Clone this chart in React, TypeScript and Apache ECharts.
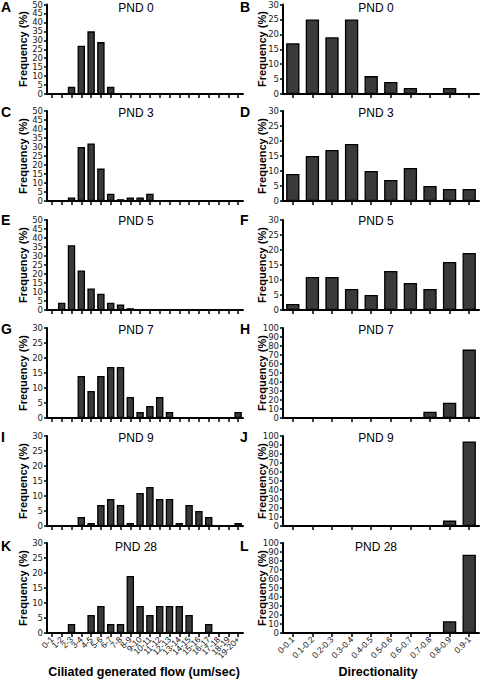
import React, { useEffect, useRef } from "react";
import * as echarts from "echarts";

// ---------- data ----------
const flowCategories = [
  "0-1", "1-2", "2-3", "3-4", "4-5", "5-6", "6-7", "7-8", "8-9", "9-10",
  "10-11", "11-12", "12-13", "13-14", "14-15", "15-16", "16-17", "17-18", "18-19", "19-20+",
];
const dirCategories = [
  "0-0.1", "0.1-0.2", "0.2-0.3", "0.3-0.4", "0.4-0.5",
  "0.5-0.6", "0.6-0.7", "0.7-0.8", "0.8-0.9", "0.9-1",
];
const panelTitles = ["PND 0", "PND 3", "PND 5", "PND 7", "PND 9", "PND 28"];
const leftLetters = ["A", "C", "E", "G", "I", "K"];
const rightLetters = ["B", "D", "F", "H", "J", "L"];

const flowPnd0 = [0, 0, 4, 27, 35, 29, 4, 0, 0, 0, 0, 0, 0, 0, 0, 0, 0, 0, 0, 0];
const flowPnd3 = [0, 0, 2, 30, 32, 18, 4, 1, 2, 2, 4, 0, 0, 0, 0, 0, 0, 0, 0, 0];
const flowPnd5 = [0, 4, 36, 22, 12, 9, 4, 3, 1, 0, 0, 0, 0, 0, 0, 0, 0, 0, 0, 0];
const flowPnd7 = [0, 0, 0, 14, 9, 14, 17, 17, 7, 2, 4, 7, 2, 0, 0, 0, 0, 0, 0, 2];
const flowPnd9 = [0, 0, 0, 3, 1, 7, 9, 7, 1, 11, 13, 9, 9, 1, 7, 5, 3, 0, 0, 1];
const flowPnd28 = [0, 0, 3, 0, 6, 9, 3, 3, 19, 9, 6, 9, 9, 9, 6, 0, 3, 0, 0, 0];

const dirPnd0 = [17, 25, 19, 25, 6, 4, 2, 0, 2, 0];
const dirPnd3 = [9, 15, 17, 19, 10, 7, 11, 5, 4, 4];
const dirPnd5 = [2, 11, 11, 7, 5, 13, 9, 7, 16, 19];
const dirPnd7 = [0, 0, 0, 0, 0, 0, 0, 7, 17, 76];
const dirPnd9 = [0, 0, 0, 0, 0, 0, 0, 0, 6, 94];
const dirPnd28 = [0, 0, 0, 0, 0, 0, 0, 0, 13, 87];

const flowSeries = [flowPnd0, flowPnd3, flowPnd5, flowPnd7, flowPnd9, flowPnd28];
const dirSeries = [dirPnd0, dirPnd3, dirPnd5, dirPnd7, dirPnd9, dirPnd28];
const flowMax = [50, 50, 50, 30, 30, 30];
const flowStep = [5, 5, 5, 5, 5, 5];
const dirMax = [30, 30, 30, 100, 100, 100];
const dirStep = [5, 5, 5, 10, 10, 10];

// ---------- layout ----------
const rowTops = [4, 111, 220, 328, 436, 543];
const plotH = 90;
const plotW = 196;
const leftX = 47;
const rightX = 283;
const titleYs = [8, 113, 221, 330, 438, 547];
const FONT = "Liberation Sans, Arial, Helvetica, sans-serif";
const TICK_FONT = "DejaVu Sans, Liberation Sans, sans-serif";

export default function App() {
  const ref = useRef<HTMLDivElement>(null);
  useEffect(() => {
    if (!ref.current) return;
    const chart = echarts.init(ref.current, null, { renderer: "svg" });
    const grids: any[] = [];
    const xAxes: any[] = [];
    const yAxes: any[] = [];
    const series: any[] = [];
    const graphics: any[] = [];

    const addPanel = (
      row: number,
      isLeft: boolean,
      cats: string[],
      data: number[],
      max: number,
      step: number
    ) => {
      const idx = grids.length;
      const last = row === 5;
      grids.push({
        left: isLeft ? leftX : rightX,
        top: rowTops[row],
        width: plotW,
        height: plotH,
        containLabel: false,
      });
      xAxes.push({
        type: "category",
        gridIndex: idx,
        data: cats,
        boundaryGap: true,
        axisLine: { show: true, lineStyle: { color: "#000", width: 2 } },
        axisTick: { show: true, alignWithLabel: true, length: 4, lineStyle: { color: "#000", width: 1.5 } },
        axisLabel: {
          show: last,
          rotate: 45,
          interval: 0,
          fontSize: 8.5,
          margin: 5,
          color: "#111",
          fontFamily: FONT,
        },
        splitLine: { show: false },
      });
      yAxes.push({
        type: "value",
        gridIndex: idx,
        min: 0,
        max,
        interval: step,
        axisLine: { show: true, lineStyle: { color: "#000", width: 2 } },
        axisTick: { show: true, length: 3, lineStyle: { color: "#000", width: 1.5 } },
        axisLabel: {
          fontSize: 8.5,
          lineHeight: 8,
          margin: 4,
          color: "#222",
          fontFamily: TICK_FONT,
          showMinLabel: true,
          showMaxLabel: true,
          hideOverlap: false,
        },
        splitLine: { show: false },
      });
      series.push({
        type: "bar",
        xAxisIndex: idx,
        yAxisIndex: idx,
        data,
        barCategoryGap: isLeft ? "24%" : "32%",
        itemStyle: { color: "#3a3a3a", borderColor: "#000", borderWidth: 1.3 },
        silent: true,
      });
      graphics.push({
        type: "text",
        x: isLeft ? 136 : 376,
        y: titleYs[row],
        style: {
          text: panelTitles[row],
          font: `12px ${FONT}`,
          fill: "#000",
          align: "center",
          verticalAlign: "middle",
        },
      });
      graphics.push({
        type: "text",
        x: isLeft ? 1 : 240,
        y: titleYs[row] - 1,
        style: {
          text: isLeft ? leftLetters[row] : rightLetters[row],
          font: `bold 14px ${FONT}`,
          fill: "#000",
          align: "left",
          verticalAlign: "middle",
        },
      });
      graphics.push({
        type: "text",
        x: isLeft ? 23 : 262,
        y: rowTops[row] + plotH / 2,
        rotation: Math.PI / 2,
        style: {
          text: "Frequency (%)",
          font: `bold 11px ${FONT}`,
          fill: "#000",
          align: "center",
          verticalAlign: "middle",
        },
      });
    };

    for (let r = 0; r < 6; r++) {
      addPanel(r, true, flowCategories, flowSeries[r], flowMax[r], flowStep[r]);
      addPanel(r, false, dirCategories, dirSeries[r], dirMax[r], dirStep[r]);
    }

    graphics.push({
      type: "text",
      x: 144,
      y: 672,
      style: {
        text: "Ciliated generated flow (um/sec)",
        font: `bold 12.5px ${FONT}`,
        fill: "#000",
        align: "center",
        verticalAlign: "middle",
      },
    });
    graphics.push({
      type: "text",
      x: 378,
      y: 672,
      style: {
        text: "Directionality",
        font: `bold 12.5px ${FONT}`,
        fill: "#000",
        align: "center",
        verticalAlign: "middle",
      },
    });

    chart.setOption({
      animation: false,
      backgroundColor: "#fff",
      textStyle: { fontFamily: FONT },
      grid: grids,
      xAxis: xAxes,
      yAxis: yAxes,
      series,
      graphic: graphics,
    });
    return () => chart.dispose();
  }, []);
  return (
    <div
      ref={ref}
      style={{ position: "absolute", left: 0, top: 0, width: 480, height: 679, background: "#fff" }}
    />
  );
}
